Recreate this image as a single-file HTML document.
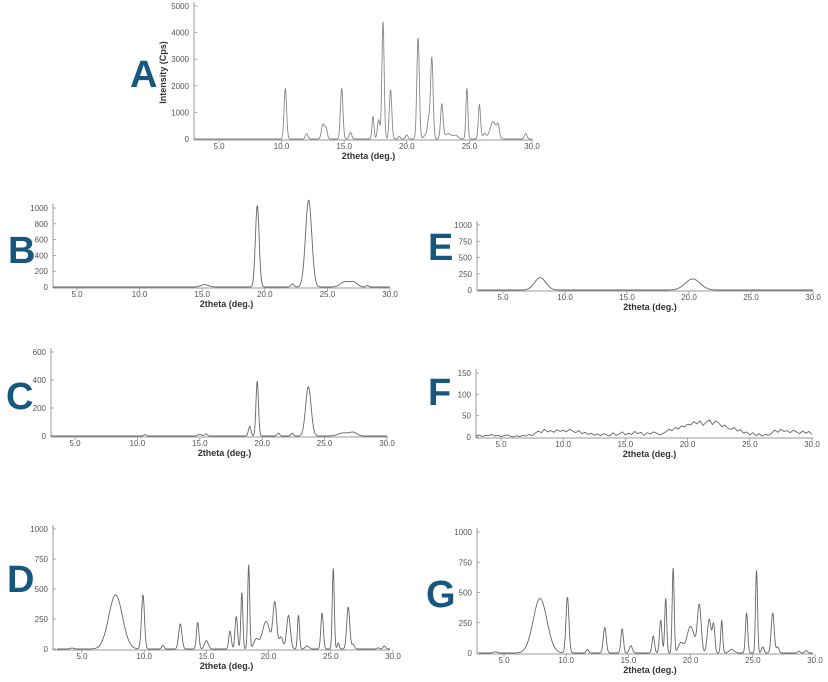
<!DOCTYPE html>
<html><head><meta charset="utf-8"><style>
html,body{margin:0;padding:0;background:#fff;}
svg{display:block;font-family:"Liberation Sans",sans-serif;}
.tl{font-size:8px;fill:#555;}
.xt{font-size:9px;font-weight:bold;fill:#333;}
.let{font-size:38px;font-weight:bold;fill:#17577f;}
</style></head><body>
<svg id="fig" width="828" height="682" viewBox="0 0 828 682"></svg>
<script>
// Peak lists: [position (2theta), height, width(sigma deg)]
const peaksA = [[10.3,1900,0.1],[12.0,200,0.1],[13.3,550,0.12],[13.55,380,0.1],[14.8,1900,0.1],[15.5,250,0.1],[17.3,850,0.08],[17.75,720,0.1],[18.1,4400,0.09],[18.7,1850,0.1],[19.4,100,0.08],[20.0,150,0.1],[20.9,3800,0.1],[21.5,150,0.15],[21.75,700,0.1],[22.0,3050,0.1],[22.8,1300,0.1],[23.3,200,0.25],[23.9,130,0.2],[24.8,1900,0.08],[25.8,1300,0.09],[26.2,200,0.12],[26.9,650,0.25],[27.3,400,0.1],[29.5,200,0.1]];
const peaksB = [[15.2,30,0.3],[19.4,1030,0.15],[22.2,40,0.12],[23.5,1100,0.25],[26.4,65,0.35],[27.1,60,0.3],[28.2,20,0.1]];
const peaksC = [[10.6,10,0.1],[15.0,12,0.15],[15.5,15,0.1],[19.0,70,0.1],[19.6,390,0.1],[21.3,20,0.1],[22.4,20,0.1],[23.7,350,0.22],[26.5,22,0.4],[27.3,25,0.3]];
const peaksD = [[4.2,8,0.15],[7.7,450,0.55],[9.9,450,0.12],[11.5,30,0.1],[12.9,210,0.13],[14.3,220,0.1],[15.0,70,0.15],[16.9,150,0.1],[17.4,270,0.1],[17.85,470,0.08],[18.4,700,0.08],[19.0,80,0.2],[19.8,230,0.3],[20.5,380,0.15],[21.0,100,0.15],[21.6,280,0.15],[22.4,280,0.08],[23.1,25,0.15],[24.3,300,0.1],[25.2,670,0.08],[25.6,50,0.08],[26.4,350,0.12],[26.8,40,0.1],[28.8,10,0.1],[29.3,25,0.1]];
const peaksE = [[8.0,190,0.45],[20.3,170,0.6]];
const peaksG = [[4.3,10,0.15],[7.9,450,0.55],[10.1,460,0.12],[11.7,30,0.1],[13.1,210,0.12],[14.5,200,0.1],[15.2,60,0.12],[17.0,140,0.1],[17.6,270,0.1],[18.0,450,0.08],[18.6,700,0.08],[19.2,80,0.2],[20.0,220,0.3],[20.7,390,0.15],[21.5,280,0.15],[21.85,230,0.1],[22.5,270,0.08],[23.3,30,0.2],[24.5,330,0.09],[25.3,680,0.08],[25.8,50,0.1],[26.6,330,0.12],[27.0,50,0.1],[28.7,15,0.1],[29.3,20,0.1]];
// F: raw noisy pattern, 0.25 deg steps starting at 3.0
const valuesF = [2,5,1,4,3,6,2,4,1,3,5,2,0,3,1,4,2,6,3,9,14,10,18,12,15,11,17,13,16,12,18,14,10,15,8,11,6,9,4,7,3,8,5,2,10,4,7,12,5,9,6,13,8,11,4,10,7,12,9,5,8,12,18,15,22,19,26,24,30,28,36,31,38,27,35,40,29,37,33,24,28,20,18,22,14,17,9,12,5,10,3,8,2,6,4,9,16,11,18,13,15,10,16,12,8,14,9,13,6];
const xTicks = [5,10,15,20,25,30];
const yTicksA = [0,1000,2000,3000,4000,5000];
const yTicksB = [0,200,400,600,800,1000];
const yTicksC = [0,200,400,600];
const yTicksDEG = [0,250,500,750,1000];
const yTicksF = [0,50,100,150];

const svg = document.getElementById('fig');
const NS = 'http://www.w3.org/2000/svg';
function mk(tag, attrs){const e=document.createElementNS(NS,tag);for(const k in attrs)e.setAttribute(k,attrs[k]);svg.appendChild(e);return e;}

const panels = [
 {id:'a',L:'A',ax:194,x5:219,x30:532,ar:533,y0:139,yt:6,ymax:5000,ticks:yTicksA,lx:130,lty:87,peaks:peaksA,ytitle:true},
 {id:'b',L:'B',ax:53,x5:77,x30:390,ar:390,y0:287,yt:208,ymax:1000,ticks:yTicksB,lx:8,lty:263,peaks:peaksB},
 {id:'c',L:'C',ax:51,x5:75,x30:387,ar:388,y0:436,yt:352,ymax:600,ticks:yTicksC,lx:6,lty:409,peaks:peaksC},
 {id:'d',L:'D',ax:53,x5:82,x30:393,ar:390,y0:649,yt:529,ymax:1000,ticks:yTicksDEG,lx:7,lty:592,peaks:peaksD},
 {id:'e',L:'E',ax:477,x5:503,x30:813,ar:813,y0:290,yt:225,ymax:1000,ticks:yTicksDEG,lx:428,lty:260,peaks:peaksE},
 {id:'f',L:'F',ax:476,x5:501,x30:812,ar:813,y0:437,yt:373,ymax:150,ticks:yTicksF,lx:428,lty:405,raw:valuesF},
 {id:'g',L:'G',ax:477,x5:504,x30:815,ar:813,y0:653,yt:532,ymax:1000,ticks:yTicksDEG,lx:426,lty:607,peaks:peaksG}
];

panels.forEach(p=>{
  const sx = v => p.x5 + (v-5)*(p.x30-p.x5)/25;
  const sy = v => p.y0 - v*(p.y0-p.yt)/p.ymax;
  const xmin = 5 - (p.x5-p.ax)*25/(p.x30-p.x5);
  const xmax = 5 + (p.ar-p.x5)*25/(p.x30-p.x5);
  const lt = mk('text',{x:p.lx,y:p.lty,class:'let'}); lt.textContent=p.L;
  
  
  const ya = mk('line',{x1:p.ax,y1:p.yt-4,x2:p.ax,y2:p.y0+1,stroke:'#999','stroke-width':1});
  
  
  const xa = mk('line',{x1:p.ax,y1:p.y0+1,x2:p.ar,y2:p.y0+1,stroke:'#999','stroke-width':1});
  
  
  p.ticks.forEach(t=>{
    const y=sy(t);
    mk('line',{x1:p.ax,y1:y,x2:p.ax+3,y2:y,stroke:'#999','stroke-width':0.8});
    const tx=mk('text',{x:p.ax-5,y:y+3,'text-anchor':'end',class:'tl'}); tx.textContent=t;
    
    
  });
  xTicks.forEach(t=>{
    const x=sx(t);
    mk('line',{x1:x,y1:p.y0+1,x2:x,y2:p.y0+4,stroke:'#999','stroke-width':0.8});
    const tx=mk('text',{x:x,y:p.y0+10,'text-anchor':'middle',class:'tl'}); tx.textContent=t.toFixed(1);
    
    
  });
  const xt=mk('text',{x:(p.ax+p.ar)/2+5,y:p.y0+20,'text-anchor':'middle',class:'xt'}); xt.textContent='2theta (deg.)';
  
  
  if(p.ytitle){
    const yt=mk('text',{x:0,y:0,'text-anchor':'middle',class:'xt',transform:'translate(166,'+((p.y0+p.yt)/2)+') rotate(-90)'}); yt.textContent='Intensity (Cps)';
    
    
  }
  let pts=[];
  if(p.raw){
    p.raw.forEach((v,i)=>{const x=3+i*0.25; if(x<=xmax) pts.push(sx(x).toFixed(1)+','+sy(v).toFixed(1));});
  } else {
    for(let x=Math.max(xmin,3); x<=Math.min(xmax,30); x+=0.02){
      let v=0; p.peaks.forEach(k=>{v+=k[1]*Math.exp(-Math.pow(x-k[0],2)/(2*k[2]*k[2]));});
      pts.push(sx(x).toFixed(1)+','+sy(v).toFixed(1));
    }
  }
  const pl=mk('polyline',{points:pts.join(' '),fill:'none',stroke:p.id==='a'?'#888':'#666','stroke-width':0.9,'stroke-linejoin':'round'});
  
  
});
</script>
</body></html>
